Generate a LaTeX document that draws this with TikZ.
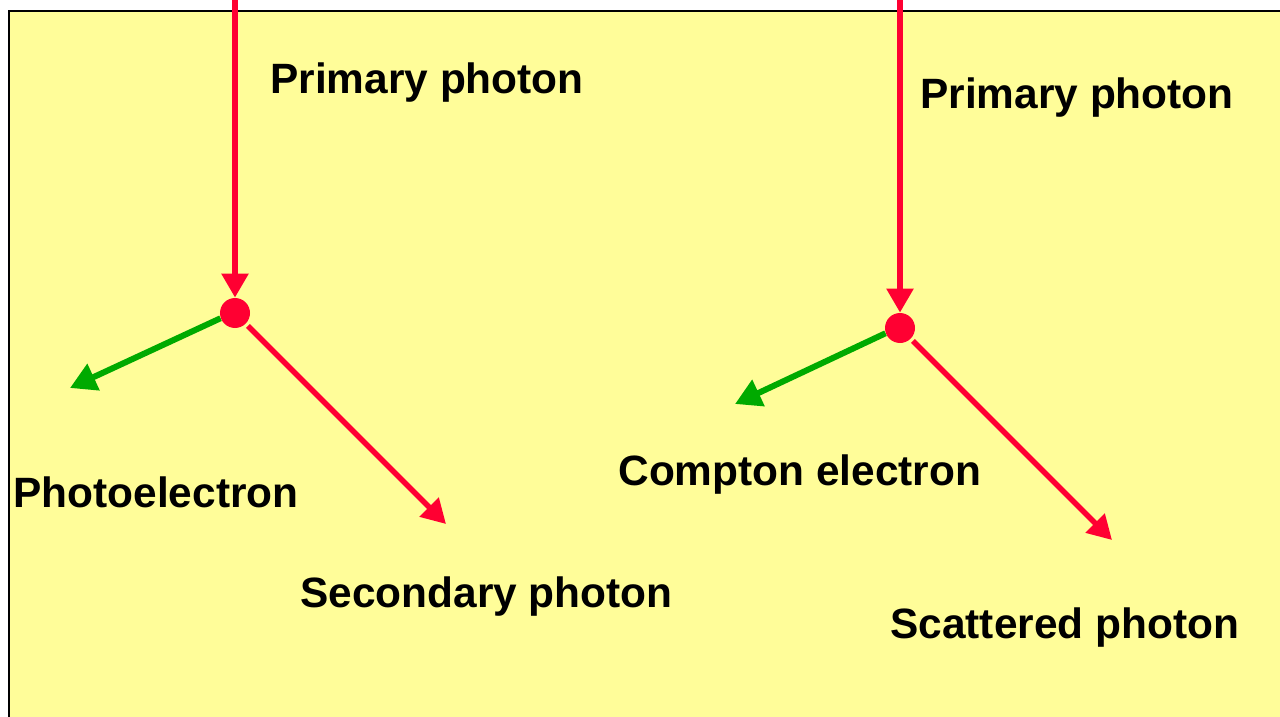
\documentclass[tikz,border=0pt]{standalone}
\usepackage{fontspec}
\setmainfont{Liberation Sans}
\usetikzlibrary{arrows.meta, positioning}

\definecolor{paleyellow}{RGB}{255,253,153}
\definecolor{photonred}{RGB}{255,0,50}
\definecolor{electrongreen}{RGB}{0,170,0}

\begin{document}
\begin{tikzpicture}[
    x=0.5pt, y=-0.5pt,
    every node/.style={font=\fontsize{21.2pt}{25pt}\selectfont\bfseries},
    photon/.style={-{Triangle[length=12pt, width=13pt]}, line width=2.8pt, photonred},
    electron/.style={-{Triangle[length=13pt, width=14pt]}, line width=3pt, electrongreen},
    vertex/.style={circle, fill=photonred, inner sep=0pt, minimum size=15pt},
    label/.style={anchor=west, inner sep=0pt}
]
\useasboundingbox (0,0) rectangle (1280,717);

% ============ BACKGROUND PANEL ============
\draw[line width=1.2pt, fill=paleyellow] (9,11) rectangle (1300,740);

% ============ PHOTOELECTRIC EFFECT (LEFT) ============
\node[vertex] (pe) at (235,313) {};
\coordinate (peIn) at (235,0);
\coordinate (peElec) at (70,388);
\coordinate (peSec) at (446,524);

\draw[photon] (peIn) -- (pe.north);
\draw[electron] (pe.200) -- (peElec);
\draw[photon] (pe.-45) ++(1pt,-1pt) -- (peSec);

\node[label] (peInLbl) at (270,83) {Primary photon};
\node[label] (peElecLbl) at (13,492) {Photoelectron};
\node[label] (peSecLbl) at (300,597) {Secondary photon};

% ============ COMPTON SCATTERING (RIGHT) ============
\node[vertex] (cs) at (900,328) {};
\coordinate (csIn) at (900,0);
\coordinate (csElec) at (735,404);
\coordinate (csScat) at (1112,540);

\draw[photon] (csIn) -- (cs.north);
\draw[electron] (cs.200) -- (csElec);
\draw[photon] (cs.-45) ++(1pt,-1pt) -- (csScat);

\node[label] (csInLbl) at (920,98) {Primary photon};
\node[label] (csElecLbl) at (618,475) {Compton electron};
\node[label] (csScatLbl) at (890,628) {Scattered photon};

\end{tikzpicture}
\end{document}
